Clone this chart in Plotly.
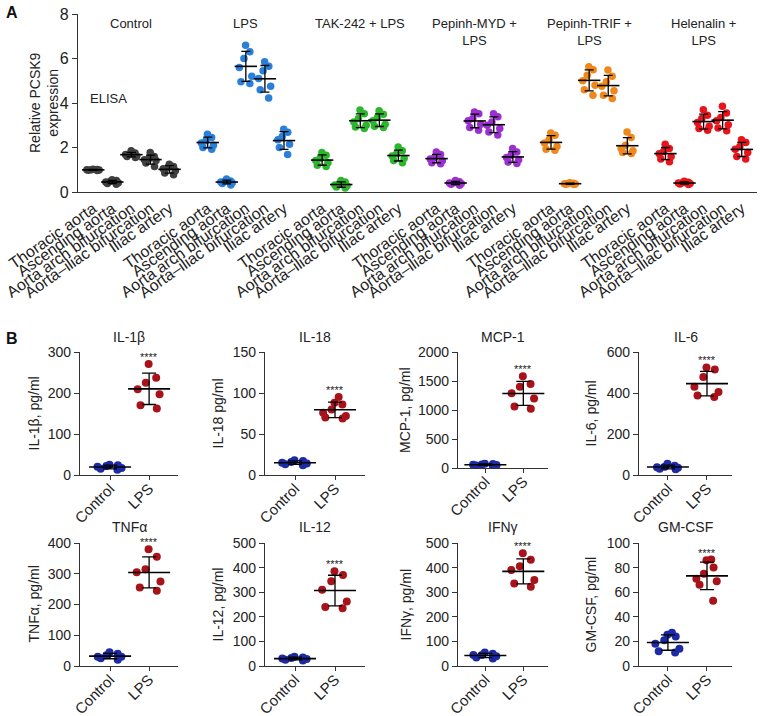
import numpy as np
import plotly.graph_objects as go

W, H = 762, 716
FONT = "Liberation Sans, Arial, sans-serif"

# ---- Panel A data: relative PCSK9 expression (ELISA) ----
groups = ["Control", "LPS", "TAK-242 + LPS", "Pepinh-MYD +<br>LPS",
          "Pepinh-TRIF +<br>LPS", "Helenalin +<br>LPS"]
group_colors = ["#404040", "#2a7fd8", "#2db52d", "#9b30d0", "#f0871a", "#e8141b"]
sites = ["Thoracic aorta", "Ascending aorta", "Aorta arch bifurcation",
         "Aorta–iliac bifurcation", "Iliac artery"]

control_pcsk9 = [
    [1.02, 0.98, 1.00, 0.99, 1.01, 1.00, 0.97],
    [0.52, 0.38, 0.45, 0.55, 0.35, 0.42, 0.48],
    [1.85, 1.75, 1.70, 1.62, 1.55, 1.68, 1.60],
    [1.78, 1.60, 1.50, 1.42, 1.30, 1.15, 1.45],
    [1.25, 1.15, 1.05, 0.95, 0.85, 0.78, 1.10],
]
lps_pcsk9 = [
    [2.60, 2.45, 2.30, 2.20, 2.10, 2.00, 1.92],
    [0.58, 0.50, 0.45, 0.42, 0.38, 0.32, 0.48],
    [6.60, 6.30, 6.00, 5.60, 5.20, 4.95, 4.88],
    [5.85, 5.65, 5.45, 5.10, 4.75, 4.60, 4.22],
    [2.82, 2.68, 2.50, 2.35, 2.15, 2.00, 1.68],
]
tak_pcsk9 = [
    [1.78, 1.65, 1.52, 1.42, 1.32, 1.20, 1.15],
    [0.52, 0.45, 0.38, 0.32, 0.28, 0.22, 0.18],
    [3.68, 3.52, 3.30, 3.15, 3.00, 2.92, 2.85],
    [3.65, 3.50, 3.35, 3.20, 3.05, 2.95, 2.90],
    [2.02, 1.85, 1.72, 1.62, 1.52, 1.42, 1.32],
]
myd_pcsk9 = [
    [1.80, 1.68, 1.55, 1.48, 1.40, 1.32, 1.27],
    [0.52, 0.46, 0.42, 0.38, 0.35, 0.30, 0.40],
    [3.60, 3.52, 3.30, 3.20, 3.05, 2.90, 2.78],
    [3.52, 3.38, 3.15, 3.00, 2.85, 2.70, 2.56],
    [1.95, 1.80, 1.65, 1.55, 1.45, 1.35, 1.28],
]
trif_pcsk9 = [
    [2.65, 2.55, 2.35, 2.20, 2.05, 1.92, 1.88],
    [0.42, 0.39, 0.37, 0.36, 0.34, 0.38, 0.35],
    [5.63, 5.50, 5.25, 5.00, 4.80, 4.60, 4.35],
    [5.48, 5.20, 4.95, 4.75, 4.55, 4.35, 4.20],
    [2.70, 2.45, 2.10, 1.95, 1.85, 1.78, 1.73],
]
helen_pcsk9 = [
    [2.15, 1.95, 1.82, 1.72, 1.60, 1.48, 1.36],
    [0.48, 0.44, 0.40, 0.38, 0.36, 0.34, 0.42],
    [3.70, 3.45, 3.30, 3.12, 2.95, 2.85, 2.78],
    [3.85, 3.55, 3.35, 3.20, 3.02, 2.88, 2.75],
    [2.35, 2.22, 2.05, 1.92, 1.78, 1.60, 1.48],
]
pcsk9_sets = [control_pcsk9, lps_pcsk9, tak_pcsk9, myd_pcsk9, trif_pcsk9, helen_pcsk9]

# ---- Panel B data: cytokines, pg/ml ----
cat_b = ["Control", "LPS"]
ctrl_color, lps_color = "#1c2aa6", "#a8121a"

il1b_ctrl = [25, 22, 20, 17, 15, 13, 24]
il1b_lps = [271, 237, 225, 209, 197, 170, 162]
il18_ctrl = [15, 17, 13, 14, 18, 16, 12]
il18_lps = [95, 88, 86, 80, 76, 72, 69, 70]
mcp1_ctrl = [60, 70, 45, 55, 40, 75, 50]
mcp1_lps = [1580, 1450, 1400, 1290, 1200, 1060, 1020]
il6_ctrl = [35, 45, 30, 40, 55, 28, 38]
il6_lps = [525, 515, 478, 430, 405, 388, 380]
tnfa_ctrl = [30, 40, 25, 35, 45, 20, 30]
tnfa_lps = [380, 355, 315, 305, 275, 255, 245]
il12_ctrl = [30, 38, 22, 28, 35, 25, 33]
il12_lps = [385, 370, 345, 310, 262, 240, 235]
ifng_ctrl = [45, 50, 35, 40, 55, 30, 45]
ifng_lps = [458, 432, 405, 390, 350, 335, 322]
gmcsf_ctrl = [27, 25.5, 24, 21, 18, 14, 12, 11]
gmcsf_lps = [86.5, 86, 80, 75, 71, 69, 66, 53]

b_titles = ["IL-1β", "IL-18", "MCP-1", "IL-6", "TNFα", "IL-12", "IFNγ", "GM-CSF"]
b_ylabels = ["IL-1β, pg/ml", "IL-18 pg/ml", "MCP-1, pg/ml", "IL-6, pg/ml",
             "TNFα, pg/ml", "IL-12, pg/ml", "IFNγ, pg/ml", "GM-CSF, pg/ml"]
b_ymax = [300, 150, 2000, 600, 400, 500, 500, 100]
b_dtick = [100, 50, 500, 200, 100, 100, 100, 20]
b_data = [(il1b_ctrl, il1b_lps), (il18_ctrl, il18_lps), (mcp1_ctrl, mcp1_lps),
          (il6_ctrl, il6_lps), (tnfa_ctrl, tnfa_lps), (il12_ctrl, il12_lps),
          (ifng_ctrl, ifng_lps), (gmcsf_ctrl, gmcsf_lps)]


def fx(p):
    return p / W


def fy(p):
    return 1 - p / H


def axis_style(**kw):
    d = dict(showline=True, linecolor="#333333", linewidth=1.3, showgrid=False,
             zeroline=False, ticks="outside", tickcolor="#333333", ticklen=5,
             tickwidth=1.2, automargin=False,
             tickfont=dict(family=FONT, size=14, color="#222"))
    d.update(kw)
    return d


def add_group(fig, xpos, vals, color, xa, ya, size, width, jitter, bar_len, cap):
    fig.add_trace(go.Box(
        x=[xpos] * len(vals), y=vals, boxpoints="all", jitter=jitter, pointpos=0,
        width=width, marker=dict(color=color, size=size),
        line=dict(color="rgba(0,0,0,0)", width=0), fillcolor="rgba(0,0,0,0)",
        xaxis=xa, yaxis=ya, showlegend=False, hoverinfo="y"))
    fig.add_trace(go.Scatter(
        x=[xpos], y=[np.mean(vals)], mode="markers", cliponaxis=False,
        marker=dict(symbol="line-ew", size=bar_len, color="black",
                    line=dict(width=1.6, color="black")),
        error_y=dict(type="data", array=[np.std(vals, ddof=1)], color="black",
                     thickness=1.3, width=cap),
        xaxis=xa, yaxis=ya, showlegend=False, hoverinfo="skip"))


fig = go.Figure()
annotations = []
layout = {}

# ---- Panel A ----
tickvals, ticktext = [], []
for g, (vals_set, col) in enumerate(zip(pcsk9_sets, group_colors)):
    for i, vals in enumerate(vals_set):
        pos = g * 6 + i
        tickvals.append(pos)
        ticktext.append(sites[i])
        add_group(fig, pos, vals, col, "x", "y", 7.5, 0.9, 0.9, 16, 4.5)
    annotations.append(dict(x=g * 6 + 2, y=8.0, xref="x", yref="y", text=groups[g],
                            showarrow=False, yanchor="top",
                            font=dict(family=FONT, size=13, color="#222")))

layout["xaxis"] = axis_style(domain=[fx(78), fx(757)], range=[-0.8, 34.8],
                             tickvals=tickvals, ticktext=ticktext, tickangle=-35,
                             ticks="", anchor="y",
                             tickfont=dict(family=FONT, size=16, color="#222"))
layout["yaxis"] = axis_style(domain=[fy(192), fy(14)], range=[0, 8],
                             tickvals=[0, 2, 4, 6, 8], anchor="x",
                             tickfont=dict(family=FONT, size=16, color="#222"))

annotations.append(dict(x=fx(44), y=fy(103), xref="paper", yref="paper",
                        text="Relative PCSK9<br>expression", textangle=-90,
                        showarrow=False, xanchor="center", yanchor="middle",
                        font=dict(family=FONT, size=14, color="#222")))
annotations.append(dict(x=fx(88), y=fy(98), xref="paper", yref="paper", text="ELISA",
                        showarrow=False, xanchor="left", yanchor="middle",
                        font=dict(family=FONT, size=13, color="#222")))
annotations.append(dict(x=fx(4), y=fy(2), xref="paper", yref="paper", text="<b>A</b>",
                        showarrow=False, xanchor="left", yanchor="top",
                        font=dict(family=FONT, size=16, color="#111")))
annotations.append(dict(x=fx(4), y=fy(328), xref="paper", yref="paper", text="<b>B</b>",
                        showarrow=False, xanchor="left", yanchor="top",
                        font=dict(family=FONT, size=16, color="#111")))

# ---- Panel B ----
col_px = [(80, 178), (265, 365), (458, 548), (639, 732)]
col_range = [(-0.77, 1.74), (-0.75, 1.75), (-0.72, 1.65), (-0.74, 1.64)]
row_px = [(352, 475), (543, 666)]
ytitle_px = [33, 217, 405, 590]
title_py = [337, 527]

for k in range(8):
    r, c = divmod(k, 4)
    n = k + 2
    xa, ya = f"x{n}", f"y{n}"
    top, bot = row_px[r]
    if k == 2:
        bot = 468
    x0, x1 = col_px[c]
    layout[f"xaxis{n}"] = axis_style(domain=[fx(x0), fx(x1)], range=list(col_range[c]),
                                     tickvals=[0, 1], ticktext=cat_b, tickangle=-45,
                                     ticklen=4, ticklabelstandoff=-6, anchor=ya,
                                     tickfont=dict(family=FONT, size=15, color="#222"))
    layout[f"yaxis{n}"] = axis_style(domain=[fy(bot), fy(top)], range=[0, b_ymax[k]],
                                     dtick=b_dtick[k], tick0=0, anchor=xa)
    ctrl, lps = b_data[k]
    add_group(fig, 0, ctrl, ctrl_color, xa, ya, 8, 0.8, 0.95, 30, 7)
    add_group(fig, 1, lps, lps_color, xa, ya, 8, 0.8, 0.95, 30, 7)
    annotations.append(dict(x=1, y=max(lps), xref=xa, yref=ya, yshift=7,
                            text="****", showarrow=False, yanchor="middle",
                            font=dict(family=FONT, size=11, color="#222")))
    annotations.append(dict(x=fx((x0 + x1) / 2), y=fy(title_py[r]), xref="paper",
                            yref="paper", text=b_titles[k], showarrow=False,
                            xanchor="center", yanchor="middle",
                            font=dict(family=FONT, size=14, color="#222")))
    annotations.append(dict(x=fx(ytitle_px[c]), y=fy((top + bot) / 2), xref="paper",
                            yref="paper", text=b_ylabels[k], textangle=-90,
                            showarrow=False, xanchor="center", yanchor="middle",
                            font=dict(family=FONT, size=14, color="#222")))

fig.update_layout(width=W, height=H, margin=dict(l=0, r=0, t=0, b=0),
                  paper_bgcolor="white", plot_bgcolor="white", boxmode="overlay",
                  annotations=annotations, showlegend=False, **layout)

# drop the page's default body margin so the figure sits at the window corner
fig.write_html("out.html", config={"displayModeBar": False},
               post_script="document.body.style.margin='0';")
